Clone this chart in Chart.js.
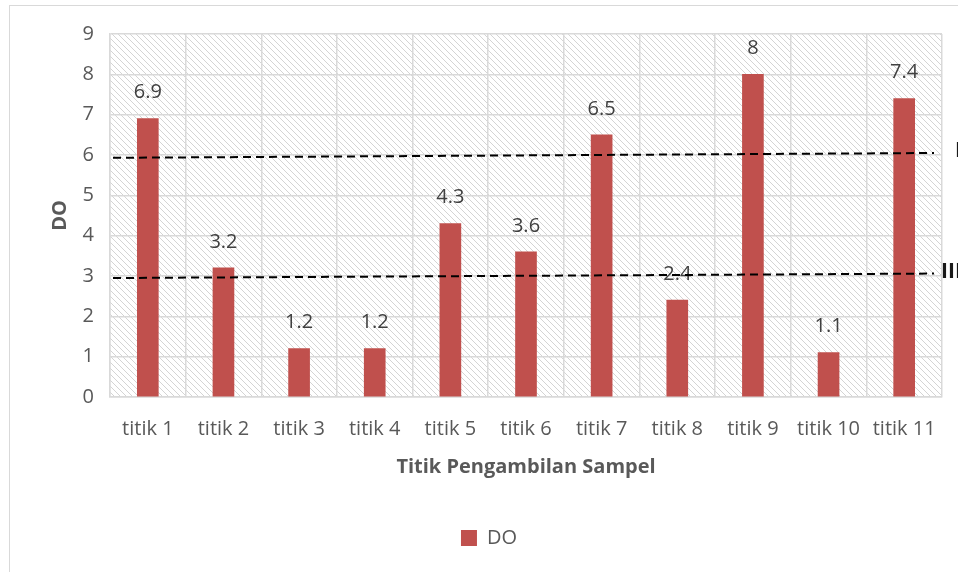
<!DOCTYPE html>
<html>
<head>
<meta charset="utf-8">
<title>DO per titik pengambilan sampel</title>
<script src="https://cdn.jsdelivr.net/npm/chart.js@4.4.1/dist/chart.umd.min.js"></script>
<style>
  html, body { margin: 0; padding: 0; background: #ffffff; }
  #wrap { position: relative; width: 958px; height: 572px; }
</style>
</head>
<body>
<div id="wrap"><canvas id="chart" width="958" height="572"></canvas></div>
<script>
// Sampling points and measured dissolved oxygen (mg/L)
const categories = ['titik 1', 'titik 2', 'titik 3', 'titik 4', 'titik 5', 'titik 6',
                    'titik 7', 'titik 8', 'titik 9', 'titik 10', 'titik 11'];
const doValues = [6.9, 3.2, 1.2, 1.2, 4.3, 3.6, 6.5, 2.4, 8, 1.1, 7.4];

// Y axis range
const yMin = 0;
const yMax = 9;
const yStep = 1;

// Quality class threshold lines (class name, value at left end, value at right end)
const classNames = ['I', 'III'];
const classStart = [5.93, 2.95];
const classEnd = [6.05, 3.06];

const FONT = "'Open Sans', 'DejaVu Sans', sans-serif";
const TEXT = '#595959';

// Hatched plot background and outer frame
const backgroundPlugin = {
  id: 'hatchBackground',
  beforeDraw(chart) {
    const ctx = chart.ctx;
    const a = chart.chartArea;
    ctx.save();
    ctx.strokeStyle = '#d9d9d9';
    ctx.lineWidth = 1;
    ctx.strokeRect(9.5, 5.5, chart.width + 20, chart.height + 20);

    const tile = document.createElement('canvas');
    tile.width = 6; tile.height = 6;
    const t = tile.getContext('2d');
    t.fillStyle = '#ffffff';
    t.fillRect(0, 0, 6, 6);
    t.strokeStyle = '#d4d4d4';
    t.lineWidth = 1;
    t.beginPath();
    t.moveTo(-1, -1); t.lineTo(7, 7);
    t.moveTo(-1, 5); t.lineTo(1, 7);
    t.moveTo(5, -1); t.lineTo(7, 1);
    t.stroke();
    ctx.fillStyle = ctx.createPattern(tile, 'repeat');
    ctx.fillRect(a.left, a.top, a.right - a.left, a.bottom - a.top);
    ctx.restore();
  }
};

// Value labels above each bar
const valueLabelPlugin = {
  id: 'valueLabels',
  afterDatasetsDraw(chart) {
    const ctx = chart.ctx;
    const meta = chart.getDatasetMeta(0);
    ctx.save();
    ctx.font = '20px ' + FONT;
    ctx.fillStyle = '#404040';
    ctx.textAlign = 'center';
    ctx.textBaseline = 'bottom';
    meta.data.forEach((bar, i) => {
      ctx.fillText(String(doValues[i]), bar.x, bar.y - 16);
    });
    ctx.restore();
  }
};

// Dashed class threshold lines with their class names
const classLinePlugin = {
  id: 'classLines',
  afterDraw(chart) {
    const ctx = chart.ctx;
    const a = chart.chartArea;
    const y = chart.scales.y;
    const x0 = a.left + 3;
    const x1 = a.right - 8;
    const nameX = [a.right + 13, a.right - 1];
    ctx.save();
    ctx.strokeStyle = '#000000';
    ctx.lineWidth = 2;
    ctx.setLineDash([8, 5]);
    classNames.forEach((name, i) => {
      const ya = y.getPixelForValue(classStart[i]);
      const yb = y.getPixelForValue(classEnd[i]);
      ctx.beginPath();
      ctx.moveTo(x0, ya);
      ctx.lineTo(x1, yb);
      ctx.stroke();
    });
    ctx.setLineDash([]);
    ctx.fillStyle = '#1a1a1a';
    ctx.font = 'bold 21px ' + FONT;
    ctx.textAlign = 'left';
    ctx.textBaseline = 'middle';
    classNames.forEach((name, i) => {
      const yb = y.getPixelForValue(classEnd[i]);
      ctx.fillText(name, nameX[i], yb - 2);
    });
    ctx.restore();
  }
};

new Chart(document.getElementById('chart'), {
  type: 'bar',
  data: {
    labels: categories,
    datasets: [{
      label: 'DO',
      data: doValues,
      backgroundColor: '#c0504d',
      borderWidth: 0,
      barThickness: 21
    }]
  },
  options: {
    responsive: false,
    animation: false,
    layout: { padding: { left: 36, top: 34, right: 16, bottom: 14 } },
    plugins: {
      legend: {
        position: 'bottom',
        labels: {
          boxWidth: 16,
          boxHeight: 16,
          color: TEXT,
          font: { family: FONT, size: 20 },
          padding: 12
        }
      },
      tooltip: { enabled: false }
    },
    scales: {
      x: {
        grid: { color: '#d9d9d9', lineWidth: 1.5, drawTicks: false, offset: true },
        border: { color: '#d9d9d9', width: 1.5 },
        ticks: { color: TEXT, font: { family: FONT, size: 20 }, padding: 20, maxRotation: 0, autoSkip: false },
        title: {
          display: true,
          text: 'Titik Pengambilan Sampel',
          color: TEXT,
          font: { family: FONT, size: 20, weight: 'bold' },
          padding: { top: 10, bottom: 37 }
        },
        afterFit(scale) { scale.height = 119; }
      },
      y: {
        min: yMin,
        max: yMax,
        grid: { color: '#d9d9d9', lineWidth: 1.5, drawTicks: false },
        border: { color: '#d9d9d9', width: 1.5 },
        ticks: { stepSize: yStep, color: TEXT, font: { family: FONT, size: 20 }, padding: 16 },
        title: {
          display: true,
          text: 'DO',
          color: TEXT,
          font: { family: FONT, size: 20, weight: 'bold' },
          padding: { top: 12, bottom: 0 }
        },
        afterFit(scale) { scale.width = 74; }
      }
    }
  },
  plugins: [backgroundPlugin, valueLabelPlugin, classLinePlugin]
});
</script>
</body>
</html>
